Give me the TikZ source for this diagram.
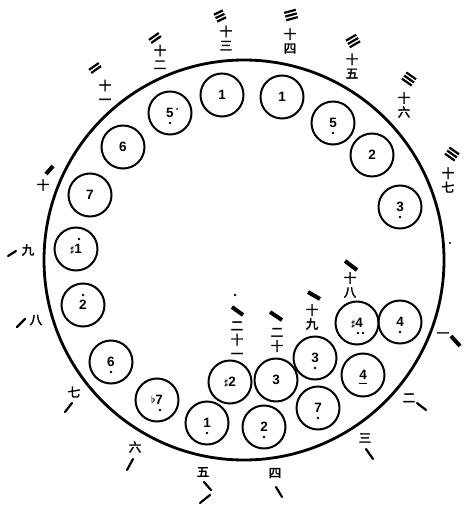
\documentclass[tikz,border=0pt]{standalone}
\usepackage{fontspec}
\usepackage{amsmath}
\newfontfamily\cjk[FakeBold=2.5]{Noto Sans CJK SC}
\newfontfamily\dig{Liberation Sans}
\newcommand\shp{\raisebox{1.5pt}{\fontsize{9}{9}\selectfont$\boldsymbol{\sharp}$}}
\newcommand\flt{\raisebox{1pt}{\fontsize{10}{10}\selectfont$\boldsymbol{\flat}$}}
% #1,#2 centre, #3 visual angle (positive = rising to the right), #4 number of bars, #5 half length
\newcommand\mybars[5]{%
  \foreach \k in {1,...,#4} {%
    \pgfmathsetmacro\oo{(\k-(#4+1)/2)*3.8}%
    \draw[thinbar] ({#1+\oo*sin(#3)-#5*cos(#3)},{#2+\oo*cos(#3)+#5*sin(#3)}) --
                   ({#1+\oo*sin(#3)+#5*cos(#3)},{#2+\oo*cos(#3)-#5*sin(#3)});}}
\begin{document}
\begin{tikzpicture}[x=1pt,y=-1pt,
  note/.style={circle,draw,line width=2pt,minimum size=43pt,inner sep=0pt,font=\dig\fontsize{13.5}{13.5}\selectfont\bfseries},
  lab/.style={font=\cjk\fontsize{12.5}{14}\selectfont,align=center,inner sep=0pt},
  stroke/.style={line width=2.2pt,line cap=round},
  bar/.style={line width=4pt},
  thinbar/.style={line width=2.2pt}]
\useasboundingbox (0,0) rectangle (464,510);
\node[circle,draw,line width=2.8pt,minimum size=400pt,inner sep=0pt] (ring) at (244,260) {};
% note circles
\node[note] (c1) at (222,95) {1};
\node[note] (c2) at (282,97) {1};
\node[note] (c3) at (333,123) {5};
\node[note] (c4) at (372,155) {2};
\node[note] (c5) at (400,207) {3};
\node[note] (c6) at (400,322) {4};
\node[note] (c7) at (357,323) {\shp4};
\node[note] (c8) at (363,375) {4};
\node[note] (c9) at (315,358) {3};
\node[note] (c10) at (318,408) {7};
\node[note] (c11) at (276,380) {3};
\node[note] (c12) at (264,427) {2};
\node[note] (c13) at (230,382) {\shp2};
\node[note] (c14) at (207,423) {1};
\node[note] (c15) at (157,400) {\flt7};
\node[note] (c16) at (111,362) {6};
\node[note] (c17) at (83,305) {2};
\node[note] (c18) at (76,249) {\shp1};
\node[note] (c19) at (90,195) {7};
\node[note] (c20) at (123,147) {6};
\node[note] (c21) at (170,113) {5};
% octave dots
\foreach \n/\dx in {c3/0,c5/0,c6/0,c9/0,c10/0,c12/0,c14/0,c16/0,c21/0,c15/3}
  \fill ([xshift=\dx pt,yshift=-10pt]\n.center) circle (1.4pt);
\fill ([xshift=1pt,yshift=-10pt]c7.center) circle (1.3pt);
\fill ([xshift=6pt,yshift=-10pt]c7.center) circle (1.3pt);
\fill ([yshift=10pt]c17.center) circle (1.4pt);
\fill ([xshift=3pt,yshift=10pt]c18.center) circle (1.4pt);
\fill ([xshift=7pt,yshift=4pt]c21.center) circle (1pt);
\draw[line width=1.4pt] ([xshift=-4pt,yshift=-8.5pt]c8.center) -- ([xshift=4pt,yshift=-8.5pt]c8.center);
% labels
\node[lab] (l1) at (443,335) {一};
\draw[bar] (451,336) -- (460,346);
\node[lab] (l2) at (409,398) {二};
\draw[stroke] (417,403) -- (426,410);
\node[lab] (l3) at (365,438) {三};
\draw[stroke] (366,449) -- (373,459);
\node[lab] (l4) at (275,473) {四};
\draw[stroke] (276,487) -- (282,497);
\node[lab] (l5) at (203,472) {五};
\draw[stroke] (204,482) -- (211,490);
\draw[stroke] (210,495) -- (200,503);
\node[lab] (l6) at (135,447) {六};
\draw[stroke] (133,459) -- (127,470);
\node[lab] (l7) at (74,392) {七};
\draw[stroke] (72,403) -- (65,412);
\node[lab] (l8) at (36,320) {八};
\draw[stroke] (17,327) -- (25,319);
\node[lab] (l9) at (28,250) {九};
\draw[stroke] (8,256) -- (16,251);
\node[lab] (l10) at (43,185) {十};
\draw[bar] (46,174) -- (53,166);
\node[lab] (l11) at (105,92) {十\\一};
\mybars{95}{68}{35}{2}{6}
\node[lab] (l12) at (160,57) {十\\二};
\mybars{155}{38}{35}{2}{6}
\node[lab] (l13) at (226,38) {十\\三};
\mybars{220}{16}{25}{3}{5}
\node[lab] (l14) at (290,41) {十\\四};
\mybars{291}{15}{15}{3}{6}
\node[lab] (l15) at (352,66) {十\\五};
\mybars{353}{41}{30}{3}{6}
\node[lab] (l16) at (404,105) {十\\六};
\mybars{409}{79}{-35}{3}{6}
\node[lab] (l17) at (448,180) {十\\七};
\mybars{452}{154}{-35}{3}{6}
\node[lab] (l18) at (350,285) {十\\八};
\draw[bar] (345,261) -- (357,270);
\node[lab] (l19) at (312,317) {十\\九};
\draw[bar] (308,292) -- (320,299);
\node[lab] (l20) at (277,340) {二\\十};
\draw[bar] (270,312) -- (282,320);
\node[lab] (l21) at (237,340) {二\\十\\一};
\draw[bar] (232,307) -- (243,315);
\fill (235,295) circle (1.3pt);
\fill (450,243) circle (1.2pt);
\end{tikzpicture}
\end{document}
